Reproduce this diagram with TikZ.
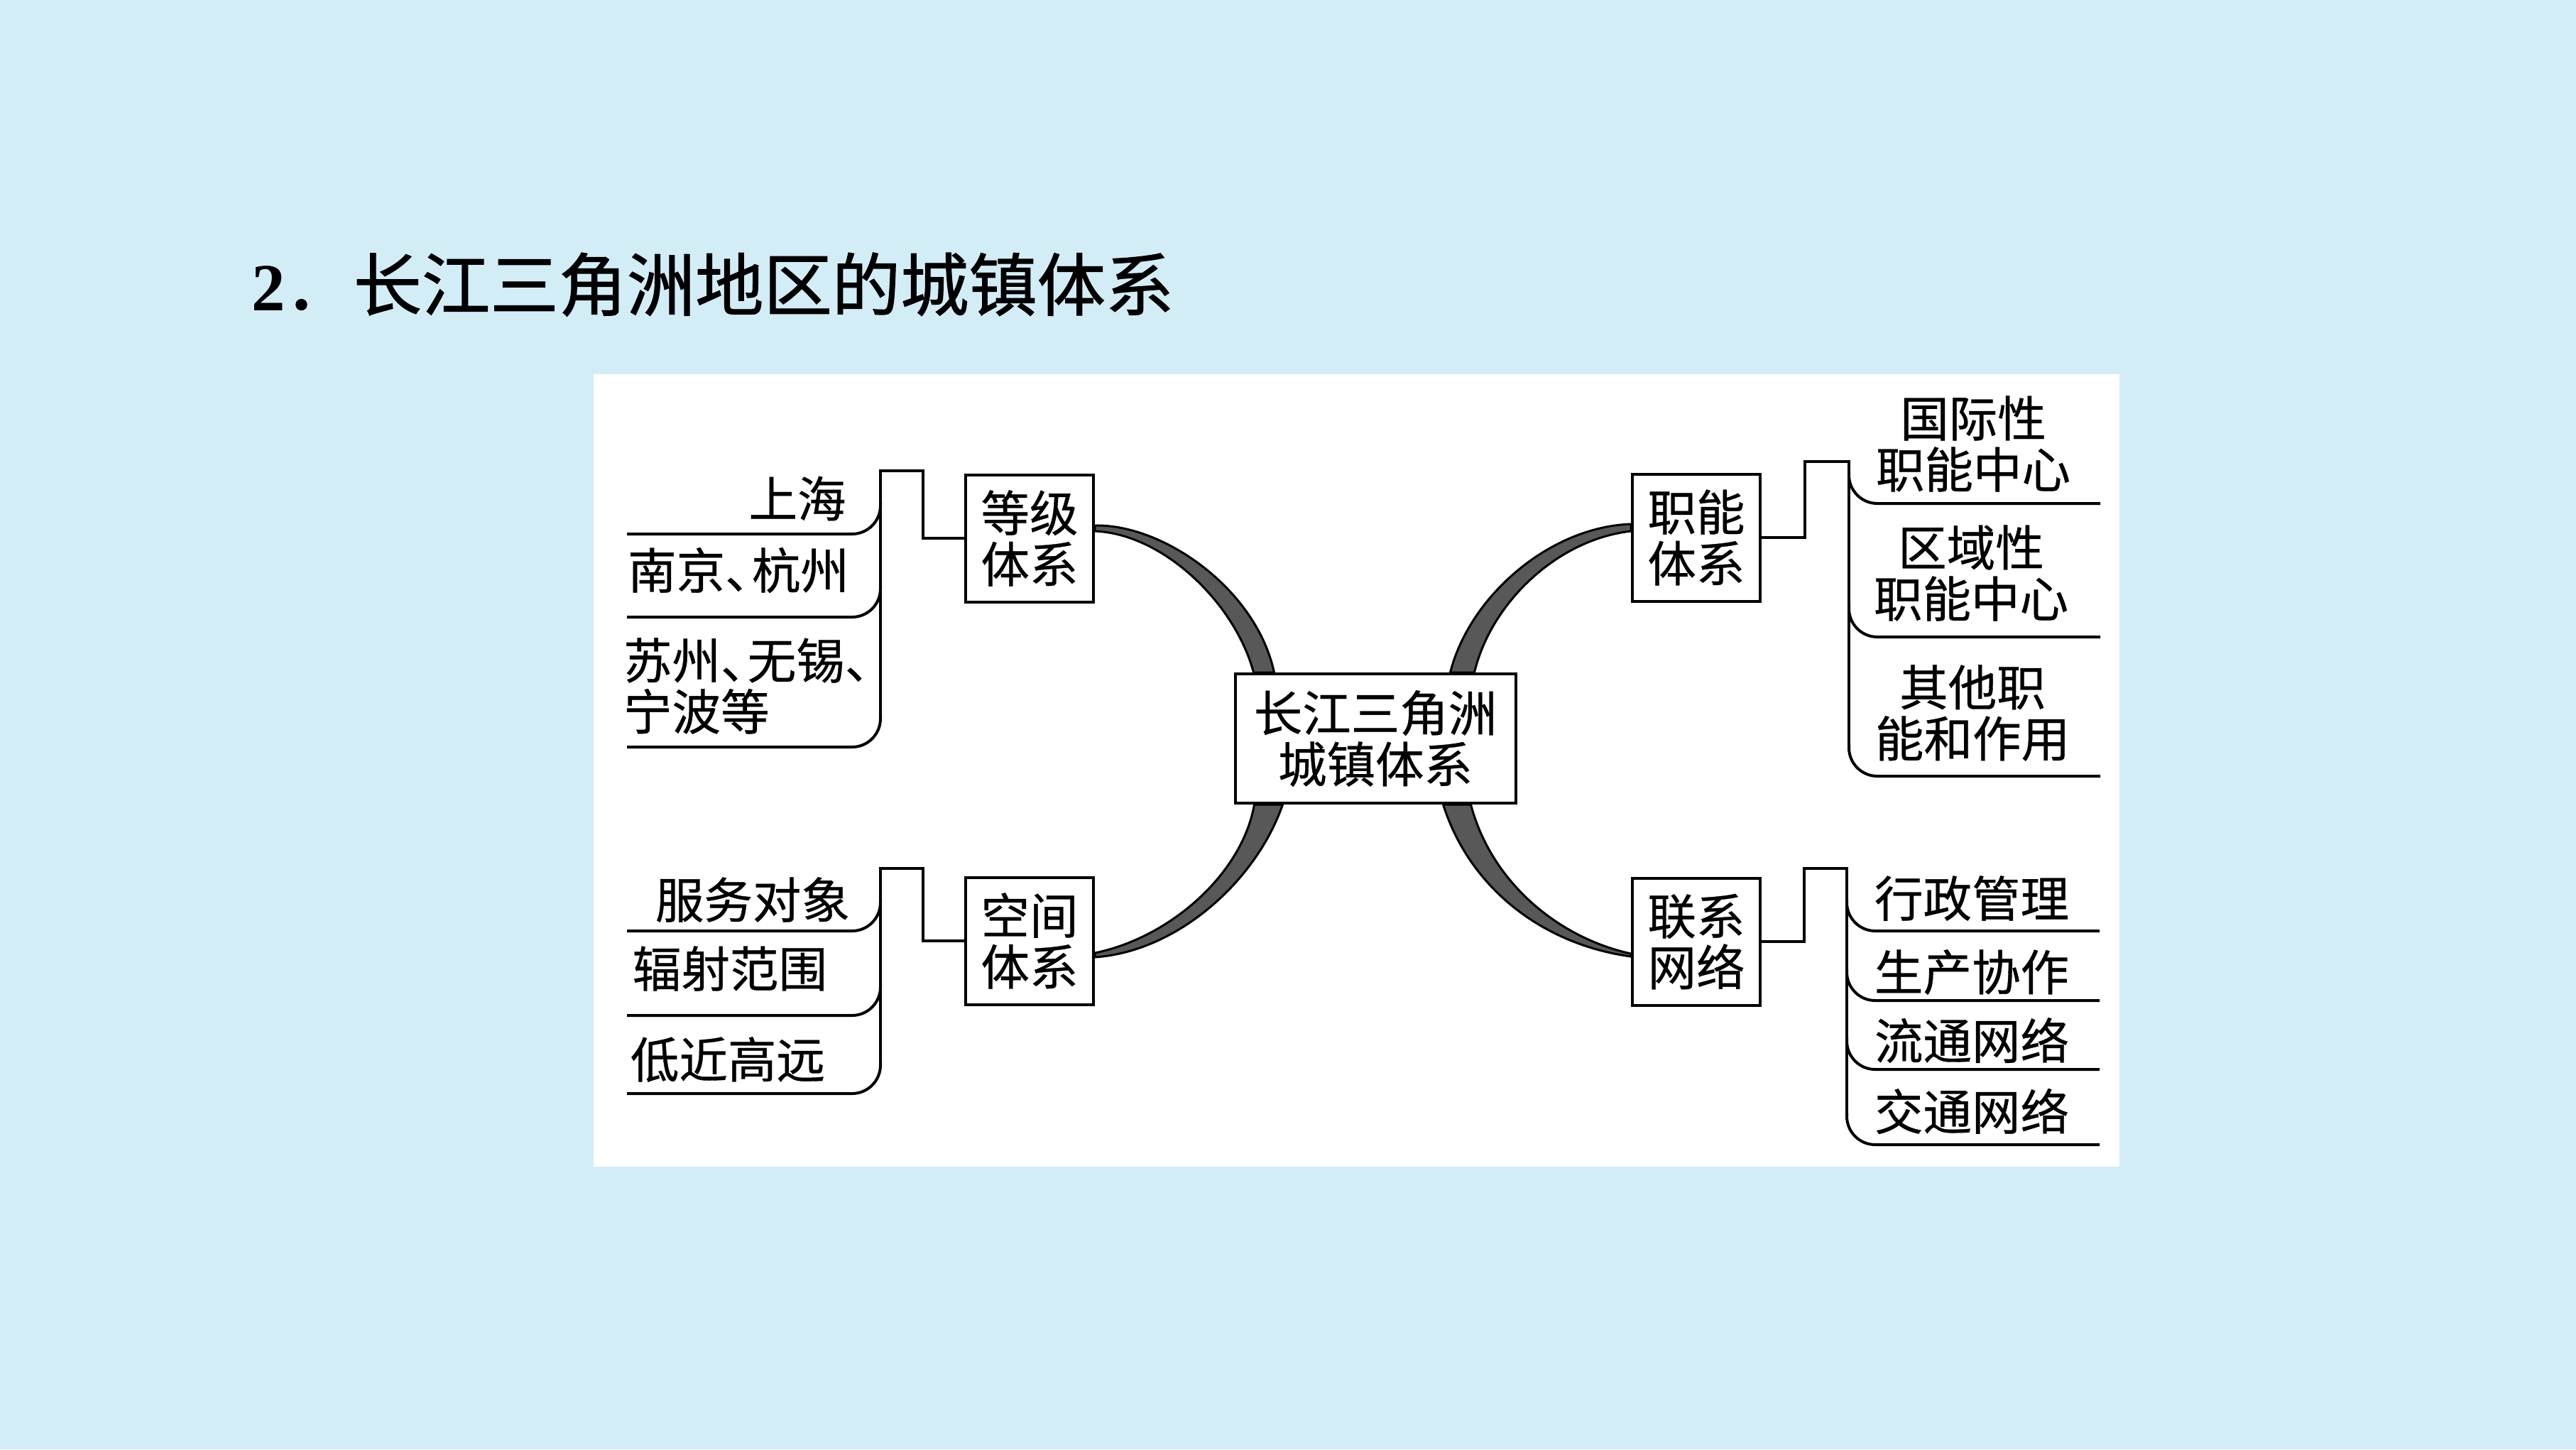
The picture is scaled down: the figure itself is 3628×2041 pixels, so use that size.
\documentclass[tikz,border=0pt]{standalone}
\usepackage{fontspec}
\setmainfont{Noto Sans CJK SC}[FakeBold=0.5]
\newfontfamily\numfont{Liberation Serif}
\newfontfamily\titlefont[FakeBold=1.2]{Noto Sans CJK SC}
\usetikzlibrary{calc,backgrounds}
\definecolor{bgblue}{RGB}{211,237,247}
\definecolor{swgray}{RGB}{88,88,88}
\newcommand{\dun}{、\kern-0.45em}

\begin{document}
\begin{tikzpicture}[x=0.1mm, y=-0.1mm, line width=0.4mm,
  every node/.style={align=center, inner sep=0pt, font=\fontsize{19.5}{20.5}\selectfont},
  sysbox/.style={draw, fill=white, minimum width=18mm, minimum height=17.9mm},
  swoosh/.style={fill=swgray, draw=black, line width=0.3mm, line join=round},
  twig/.style={rounded corners=4mm}]
  \useasboundingbox (0,0) rectangle (3628,2041);

  \node[anchor=base west, font=\fontsize{27.4}{30}\selectfont] (title) at (352,437)
    {{\numfont\bfseries\fontsize{27}{30}\selectfont 2}{\titlefont ．长江三角洲地区的城镇体系}};

  \node[draw, fill=white, minimum width=39.5mm, minimum height=18.2mm] (hub)
    at (1937,1040) {长江三角洲\\城镇体系};
  \node[sysbox] (dj) at (1450,758) {等级\\体系};
  \node[sysbox] (zn) at (2389,757) {职能\\体系};
  \node[sysbox] (kj) at (1450,1325) {空间\\体系};
  \node[sysbox] (lx) at (2389,1326) {联系\\网络};

  % left: hierarchy
  \node (sh) at (1123,702) {上海};
  \node (nj) at (1040,803) {南京\dun 杭州};
  \node[anchor=west, align=left] (sz) at (876,966) {苏州\dun 无锡\dun\\宁波等};
  \draw (dj.west) -| (1300,663) -- (1240,663) -- (1240,1010);
  \foreach \y in {752,869,1052} \draw[twig] (883,\y) -| (1240,\y-45);

  % left: space
  \node (fw) at (1060,1267) {服务对象};
  \node (fs) at (1028,1364) {辐射范围};
  \node (dg) at (1025,1492) {低近高远};
  \draw (kj.west) -| (1300,1223) -- (1240,1223) -- (1240,1500);
  \foreach \y in {1311,1430,1540} \draw[twig] (883,\y) -| (1240,\y-45);

  % right: functions
  \node (gj) at (2779,625) {国际性\\职能中心};
  \node (qy) at (2776,807) {区域性\\职能中心};
  \node (qt) at (2778,1004) {其他职\\能和作用};
  \draw (zn.east) -| (2542,650) -- (2604,650) -- (2604,1050);
  \foreach \y in {709,897,1093} \draw[twig] (2958,\y) -| (2604,\y-45);

  % right: network
  \node (xz) at (2777,1265) {行政管理};
  \node (sc) at (2777,1369) {生产协作};
  \node (lt) at (2777,1465) {流通网络};
  \node (jt) at (2777,1565) {交通网络};
  \draw (lx.east) -| (2541,1223) -- (2601,1223) -- (2601,1570);
  \foreach \y in {1311,1409,1506,1612} \draw[twig] (2957,\y) -| (2601,\y-45);

  \begin{scope}[on background layer]
    \fill[bgblue] (0,0) rectangle (3628,2041);
    \fill[white] (836,527) rectangle (2985,1643);
    \draw[swoosh] ($(dj.east)+(0,-18)$) .. controls +(97,-2) and +(-25,-117) .. ($(hub.north west)+(57,0)$)
      -- ($(hub.north west)+(28,0)$) .. controls +(-26,-97) and +(97,4) .. ($(dj.east)+(0,-10)$) -- cycle;
    \draw[swoosh] ($(hub.north east)+(-94,0)$) .. controls +(27,-107) and +(-115,4) .. ($(zn.west)+(0,-19)$)
      -- ($(zn.west)+(0,-9)$) .. controls +(-105,12) and +(23,-97) .. ($(hub.north east)+(-60,0)$) -- cycle;
    \draw[swoosh] ($(hub.south west)+(69,0)$) .. controls +(-37,107) and +(117,-8) .. ($(kj.east)+(0,23)$)
      -- ($(kj.east)+(0,17)$) .. controls +(107,-22) and +(-17,97) .. ($(hub.south west)+(29,0)$) -- cycle;
    \draw[swoosh] ($(hub.south east)+(-104,0)$) .. controls +(37,117) and +(-125,-17) .. ($(lx.west)+(0,21)$)
      -- ($(lx.west)+(0,17)$) .. controls +(-105,-23) and +(28,107) .. ($(hub.south east)+(-65,0)$) -- cycle;
  \end{scope}
\end{tikzpicture}
\end{document}
